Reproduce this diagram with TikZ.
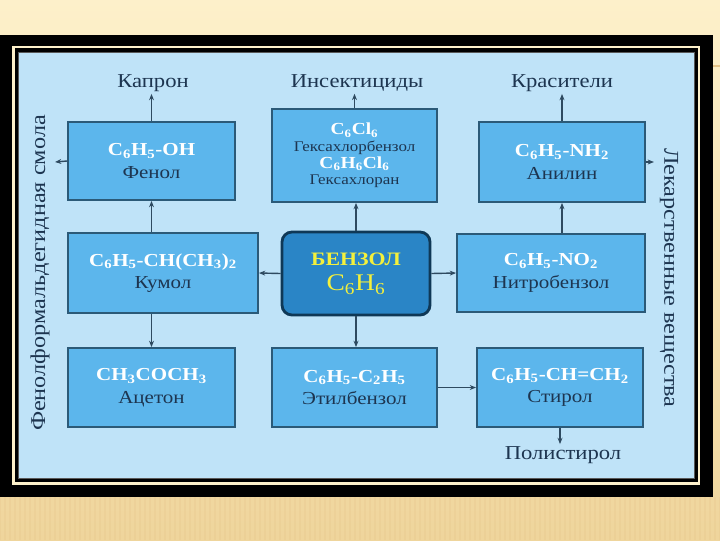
\documentclass[tikz,border=0pt]{standalone}
\usepackage{fontspec}
\setmainfont{Liberation Serif}[FakeStretch=1.15]
\usetikzlibrary{arrows.meta,positioning}
\definecolor{SlideCream}{HTML}{FDF0CA}
\definecolor{SlideTan}{HTML}{EFD59C}
\definecolor{PanelSky}{HTML}{BFE3F8}
\definecolor{BoxFill}{HTML}{5CB6EC}
\definecolor{BoxEdge}{HTML}{2B5A78}
\definecolor{CoreFill}{HTML}{2A85C6}
\definecolor{CoreEdge}{HTML}{0F3856}
\definecolor{CoreText}{HTML}{F4F03C}
\definecolor{NameInk}{HTML}{1D3550}
\definecolor{ArrowInk}{HTML}{2E4A60}
\newcommand{\ind}[1]{\textsubscript{#1}}
\newcommand{\frm}[1]{{\bfseries\color{white}#1}}
\tikzset{
  figure/.style={x=0.025cm,y=-0.025cm,text=NameInk,>={Stealth[length=4.5pt,width=3.5pt]}},
  chembox/.style={draw=BoxEdge,line width=1.3pt,fill=BoxFill,align=center,inner sep=2pt,font=\fontsize{13}{16}\selectfont},
  corebox/.style={draw=CoreEdge,line width=2pt,fill=CoreFill,rounded corners=2.5mm,align=center,text=CoreText},
  product/.style={font=\fontsize{14}{16}\selectfont,text=NameInk,inner sep=1.5pt},
  sidenote/.style={font=\fontsize{15}{17}\selectfont,text=NameInk,inner sep=1pt},
  flow/.style={->,line width=1pt,draw=ArrowInk},
}

\begin{document}
\begin{tikzpicture}[figure]
  \useasboundingbox (0,0) rectangle (720,540);
  \shade[top color=SlideCream,middle color=SlideCream,bottom color=SlideTan] (0,0) rectangle (720,540);
  \foreach \sx in {0,5,...,720}
    \draw[SlideTan!70!brown,opacity=0.18,line width=1.2pt] (\sx,497) -- (\sx,540);
  \draw[SlideTan!80!brown,line width=0.8pt] (698,66) -- (720,66);

  \fill[black] (0,35) rectangle (713,497);
  \draw[SlideCream,line width=1.6pt] (13.5,47) rectangle (699,483.5);
  \filldraw[fill=PanelSky,draw=gray!70!black,line width=0.4pt] (18,52) rectangle (694,478);

  \node[chembox,minimum width=4.175cm,minimum height=1.95cm] (phenol) at (151.5,161)
    {\frm{C\ind6H\ind5-OH}\\Фенол};
  \node[chembox,minimum width=4.125cm,minimum height=2.325cm,font=\fontsize{10.5}{11.8}\selectfont] (hexa) at (354.5,155.5)
    {\frm{\fontsize{12}{11.8}\selectfont C\ind6Cl\ind6}\\Гексахлорбензол\\
     \frm{\fontsize{12}{11.8}\selectfont C\ind6H\ind6Cl\ind6}\\Гексахлоран};
  \node[chembox,minimum width=4.15cm,minimum height=2cm] (aniline) at (562,162)
    {\frm{C\ind6H\ind5-NH\ind2}\\Анилин};

  \node[chembox,minimum width=4.75cm,minimum height=2cm] (cumene) at (163,273)
    {\frm{C\ind6H\ind5-CH(CH\ind3)\ind2}\\Кумол};
  \node[corebox,minimum width=3.7cm,minimum height=2.075cm] (benzene) at (356,273.5)
    {\fontsize{13.5}{16}\selectfont\bfseries БЕНЗОЛ\\[6pt]\fontsize{17}{20}\selectfont C\ind6H\ind6};
  \node[chembox,minimum width=4.7cm,minimum height=1.95cm] (nitro) at (551,273)
    {\frm{C\ind6H\ind5-NO\ind2}\\Нитробензол};

  \node[chembox,minimum width=4.175cm,minimum height=1.975cm] (acetone) at (151.5,387.5)
    {\frm{CH\ind3COCH\ind3}\\Ацетон};
  \node[chembox,minimum width=4.125cm,minimum height=1.975cm] (ethyl) at (354.5,387.5)
    {\frm{C\ind6H\ind5-C\ind2H\ind5}\\Этилбензол};
  \node[chembox,minimum width=4.15cm,minimum height=1.975cm] (styrene) at (560,387.5)
    {\frm{C\ind6H\ind5-CH=CH\ind2}\\Стирол};

  \node[product] (kapron) at (153,83) {Капрон};
  \node[product] (insect) at (357,83) {Инсектициды};
  \node[product] (dyes) at (562,83) {Красители};
  \node[product] (polystyrene) at (563,455) {Полистирол};
  \node[sidenote,rotate=90] (resin) at (40,273) {Фенолформальдегидная смола};
  \node[sidenote,rotate=-90] (drugs) at (669,278) {Лекарственные вещества};
  \coordinate (resinend) at (55,162);
  \coordinate (drugsend) at (654,162);

  \draw[flow] (phenol.north) -- (phenol.north |- kapron.south);
  \draw[flow] (hexa.north) -- (hexa.north |- insect.south);
  \draw[flow] (aniline.north) -- (aniline.north |- dyes.south);
  \draw[flow] (phenol.west) -- (resinend);
  \draw[flow] (aniline.east) -- (drugsend);
  \draw[flow] (cumene.north -| phenol.south) -- (phenol.south);
  \draw[flow] (cumene.south -| acetone.north) -- (acetone.north);
  \draw[flow] (benzene.north) -- (benzene.north |- hexa.south);
  \draw[flow] (benzene.west) -- (cumene.east);
  \draw[flow] (benzene.east) -- (nitro.west);
  \draw[flow] (benzene.south) -- (benzene.south |- ethyl.north);
  \draw[flow] (nitro.north -| aniline.south) -- (aniline.south);
  \draw[flow] (ethyl.east) -- (styrene.west);
  \draw[flow] (styrene.south) -- (styrene.south |- polystyrene.north);
\end{tikzpicture}
\end{document}
